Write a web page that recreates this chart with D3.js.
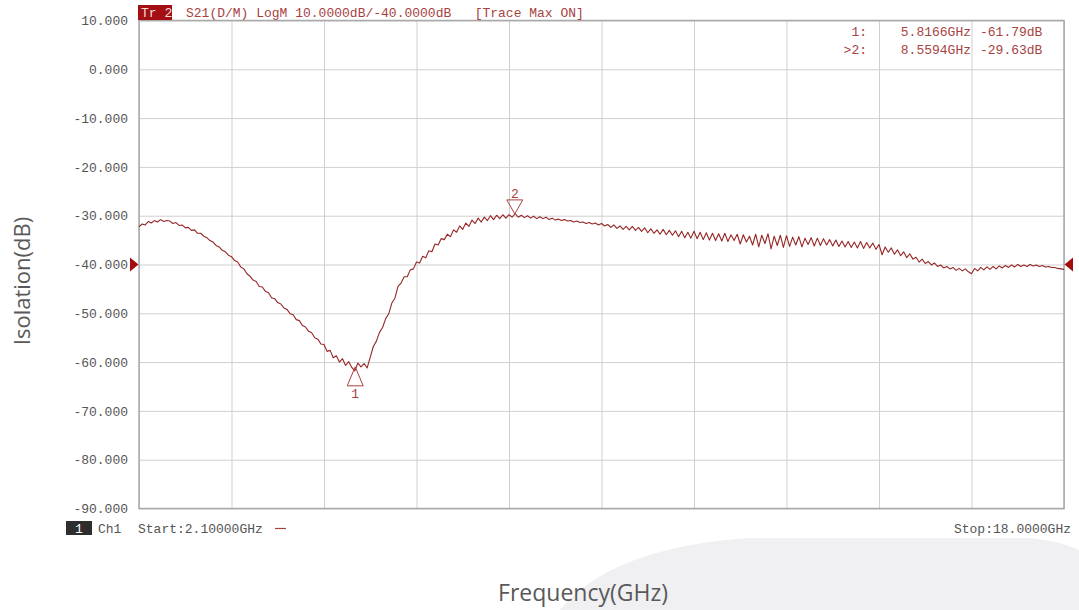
<!DOCTYPE html>
<html><head><meta charset="utf-8">
<script src="https://cdn.jsdelivr.net/npm/d3@7"></script>
<style>
body{margin:0;background:#fff;}
svg{display:block;}
.mono{font-family:"Liberation Mono","DejaVu Sans Mono",monospace;font-size:13px;}
</style>
</head><body>
<svg id="chart" width="1079" height="610"></svg>
<script>
// ---------- data ----------
const startGHz = 2.1, stopGHz = 18.0;
const gridDivisions = 10;
const yTicks = [10, 0, -10, -20, -30, -40, -50, -60, -70, -80, -90];
const refLevelDb = -40;
const headerTag = "Tr 2";
const headerText = "S21(D/M) LogM 10.0000dB/-40.0000dB\u00a0\u00a0\u00a0[Trace Max ON]";
const markerIds = ["1", "2"];
const markerGHz = [5.8166, 8.5594];
const markerDb = [-61.79, -29.63];
const markerPrefix = ["1:", ">2:"];
const markerFreqText = ["5.8166GHz", "8.5594GHz"];
const markerDbText = ["-61.79dB", "-29.63dB"];
const startText = "Start:2.10000GHz";
const stopText = "Stop:18.0000GHz";
const xTitle = "Frequency(GHz)";
const yTitle = "Isolation(dB)";
// 301 sweep points, evenly spaced from start to stop (S21, dB)
const traceDb = [
-32.3,-31.7,-31.9,-31.2,-31.5,-31.0,-31.3,-30.8,-31.2,-31.0,
-31.1,-31.6,-31.4,-32.0,-31.9,-32.5,-32.4,-33.0,-32.9,-33.6,
-33.6,-34.2,-34.5,-35.1,-35.4,-36.1,-36.4,-37.1,-37.4,-38.1,
-38.4,-39.2,-39.5,-40.5,-40.9,-41.9,-42.4,-43.2,-43.5,-44.5,
-44.6,-45.5,-45.8,-46.8,-47.0,-47.8,-48.1,-48.9,-49.2,-50.1,
-50.3,-51.3,-51.5,-52.5,-52.8,-53.7,-54.0,-55.0,-55.3,-56.3,
-56.4,-57.8,-57.6,-59.1,-58.7,-60.0,-59.3,-60.7,-59.9,-61.1,
-61.8,-60.2,-61.0,-60.3,-61.2,-59.0,-56.8,-55.7,-53.9,-52.9,
-51.1,-50.1,-47.9,-46.9,-44.5,-43.8,-42.5,-42.5,-41.1,-40.9,
-39.5,-39.7,-38.3,-38.6,-37.2,-37.4,-35.8,-36.0,-34.7,-34.9,
-33.8,-34.3,-32.9,-33.4,-32.1,-32.8,-31.5,-32.2,-30.9,-31.6,
-30.5,-31.3,-30.3,-31.0,-30.0,-30.8,-29.9,-30.6,-29.8,-30.5,
-29.8,-30.3,-29.6,-30.3,-29.9,-30.4,-30.0,-30.5,-30.1,-30.6,
-30.2,-30.6,-30.3,-30.8,-30.5,-30.9,-30.7,-31.0,-30.8,-31.1,
-31.0,-31.3,-31.1,-31.4,-31.3,-31.6,-31.4,-31.7,-31.5,-31.9,
-31.6,-32.1,-31.8,-32.4,-31.9,-32.6,-32.1,-32.8,-32.2,-32.9,
-32.2,-33.0,-32.4,-33.2,-32.5,-33.5,-32.7,-33.6,-32.9,-33.8,
-32.8,-33.9,-33.0,-34.0,-33.1,-34.3,-33.2,-34.5,-33.4,-34.6,
-33.2,-34.7,-33.4,-34.9,-33.5,-35.0,-33.6,-35.1,-33.7,-35.2,
-33.6,-35.3,-33.9,-35.1,-33.8,-35.8,-33.9,-35.4,-34.2,-36.0,
-33.8,-36.4,-34.0,-35.7,-33.7,-36.8,-34.2,-36.1,-34.0,-36.5,
-34.1,-36.3,-34.4,-36.0,-34.3,-36.4,-34.6,-35.9,-34.5,-36.2,
-34.6,-36.1,-34.7,-36.0,-34.9,-36.2,-35.0,-36.3,-35.2,-36.4,
-35.3,-36.5,-35.4,-36.6,-35.3,-36.7,-35.5,-36.6,-35.6,-36.9,
-35.9,-38.0,-36.4,-37.5,-36.6,-37.9,-37.0,-38.2,-37.4,-38.6,
-37.8,-38.9,-38.5,-39.5,-38.9,-39.8,-39.4,-40.1,-39.7,-40.4,
-40.1,-40.7,-40.4,-40.9,-40.6,-41.2,-40.8,-41.3,-40.9,-41.5,
-41.9,-40.8,-41.3,-40.6,-41.1,-40.5,-41.0,-40.4,-40.9,-40.3,
-40.7,-40.2,-40.6,-40.1,-40.5,-40.0,-40.4,-40.1,-40.4,-40.0,
-40.3,-40.1,-40.4,-40.2,-40.5,-40.4,-40.6,-40.6,-40.8,-40.9,
-41.0
];

// ---------- layout ----------
const plot = {left: 139, right: 1064, top: 20.5, bottom: 508.5};
const traceColor = "#962626";
const textRed = "#a8423f";
const gridColor = "#cfcfcf";
const labelGrey = "#555";

const svg = d3.select("#chart");

const x = d3.scaleLinear().domain([startGHz, stopGHz]).range([plot.left, plot.right]);
const y = d3.scaleLinear().domain([-90, 10]).range([plot.bottom, plot.top]);
const xGrid = d3.range(gridDivisions + 1).map(k => startGHz + k * (stopGHz - startGHz) / gridDivisions);
const nPts = traceDb.length;
const freqAt = i => startGHz + i * (stopGHz - startGHz) / (nPts - 1);

// background decorative shape
svg.append("path")
  .attr("d", "M560,610 Q610,548 748,538 L1030,538 Q1060,541 1079,550 L1079,610 Z")
  .attr("fill", "#f0f0f3");

// grid
const gy = svg.append("g").attr("transform", `translate(${plot.left},0)`)
  .call(d3.axisLeft(y).tickValues(yTicks).tickSize(-(plot.right - plot.left)).tickFormat(""));
gy.select(".domain").remove();
gy.selectAll("line").attr("stroke", gridColor).attr("stroke-width", 1);

const gx = svg.append("g").attr("transform", `translate(0,${plot.bottom})`)
  .call(d3.axisBottom(x).tickValues(xGrid).tickSize(-(plot.bottom - plot.top)).tickFormat(""));
gx.select(".domain").remove();
gx.selectAll("line").attr("stroke", gridColor).attr("stroke-width", 1);

// frame
svg.append("rect")
  .attr("x", plot.left).attr("y", plot.top)
  .attr("width", plot.right - plot.left).attr("height", plot.bottom - plot.top)
  .attr("fill", "none").attr("stroke", "#a9a9a9").attr("stroke-width", 1.5);

// y tick labels
const ay = svg.append("g").attr("transform", `translate(${plot.left},0)`)
  .call(d3.axisLeft(y).tickValues(yTicks).tickSize(0).tickPadding(11).tickFormat(d => d.toFixed(3)));
ay.select(".domain").remove();
ay.selectAll("text").attr("fill", labelGrey)
  .style("font-family", '"Liberation Mono","DejaVu Sans Mono",monospace').style("font-size", "13px");

// trace
svg.append("path")
  .datum(traceDb)
  .attr("fill", "none").attr("stroke", traceColor).attr("stroke-width", 1.1)
  .attr("stroke-linejoin", "round")
  .attr("d", d3.line().x((d, i) => x(freqAt(i))).y(d => y(d)));

// reference level arrows
const ry = y(refLevelDb);
svg.append("path")
  .attr("d", `M${plot.left - 9},${ry - 7} L${plot.left - 0.5},${ry} L${plot.left - 9},${ry + 7} Z`)
  .attr("fill", "#a50d0d");
svg.append("path")
  .attr("d", `M${plot.right + 9},${ry - 7} L${plot.right + 0.5},${ry} L${plot.right + 9},${ry + 7} Z`)
  .attr("fill", "#a50d0d");

// markers
markerIds.forEach((id, k) => {
  const mx = x(markerGHz[k]);
  const my = y(markerDb[k]);
  const g = svg.append("g");
  if (k === 0) {
    const ay0 = my - 4;
    g.append("path").attr("d", `M${mx},${ay0} L${mx - 8},${ay0 + 19} L${mx + 8},${ay0 + 19} Z`)
      .attr("fill", "none").attr("stroke", textRed).attr("stroke-width", 1);
    g.append("text").attr("class", "mono").attr("x", mx).attr("y", ay0 + 31)
      .attr("text-anchor", "middle").attr("fill", textRed).text(id);
  } else {
    g.append("path").attr("d", `M${mx},${my} L${mx - 8},${my - 14} L${mx + 8},${my - 14} Z`)
      .attr("fill", "none").attr("stroke", textRed).attr("stroke-width", 1);
    g.append("text").attr("class", "mono").attr("x", mx).attr("y", my - 16)
      .attr("text-anchor", "middle").attr("fill", textRed).text(id);
  }
});

// header
svg.append("rect").attr("x", plot.left - 1).attr("y", 5).attr("width", 34).attr("height", 15)
  .attr("fill", "#a30f12");
svg.append("text").attr("class", "mono").attr("x", plot.left + 2).attr("y", 17)
  .attr("fill", "#f3dede").text(headerTag);
svg.append("text").attr("class", "mono").attr("x", 186).attr("y", 17)
  .attr("fill", textRed).text(headerText);

// marker readout
markerIds.forEach((id, k) => {
  const by = 36 + k * 18;
  svg.append("text").attr("class", "mono").attr("x", 867).attr("y", by).attr("text-anchor", "end")
    .attr("fill", textRed).text(markerPrefix[k]);
  svg.append("text").attr("class", "mono").attr("x", 971).attr("y", by).attr("text-anchor", "end")
    .attr("fill", textRed).text(markerFreqText[k]);
  svg.append("text").attr("class", "mono").attr("x", 980).attr("y", by)
    .attr("fill", textRed).text(markerDbText[k]);
});

// footer
svg.append("rect").attr("x", 66).attr("y", 521).attr("width", 26).attr("height", 14).attr("fill", "#2e2e2e");
svg.append("text").attr("class", "mono").attr("x", 79).attr("y", 533).attr("text-anchor", "middle")
  .attr("fill", "#fff").text("1");
svg.append("text").attr("class", "mono").attr("x", 98).attr("y", 533).attr("fill", labelGrey).text("Ch1");
svg.append("text").attr("class", "mono").attr("x", 138).attr("y", 533).attr("fill", labelGrey).text(startText);
svg.append("line").attr("x1", 275).attr("x2", 286).attr("y1", 528.5).attr("y2", 528.5)
  .attr("stroke", textRed).attr("stroke-width", 1.2);
svg.append("text").attr("class", "mono").attr("x", 1071).attr("y", 533).attr("text-anchor", "end")
  .attr("fill", labelGrey).text(stopText);

// axis titles
svg.append("text").attr("x", 583).attr("y", 601).attr("text-anchor", "middle")
  .attr("fill", "#595959").style("font-family", '"Open Sans","Noto Sans",sans-serif').style("font-size", "23px")
  .text(xTitle);
svg.append("text").attr("transform", "translate(30,281) rotate(-90)").attr("text-anchor", "middle")
  .attr("fill", "#595959").style("font-family", '"Open Sans","Noto Sans",sans-serif').style("font-size", "22px")
  .text(yTitle);
</script>
</body></html>
